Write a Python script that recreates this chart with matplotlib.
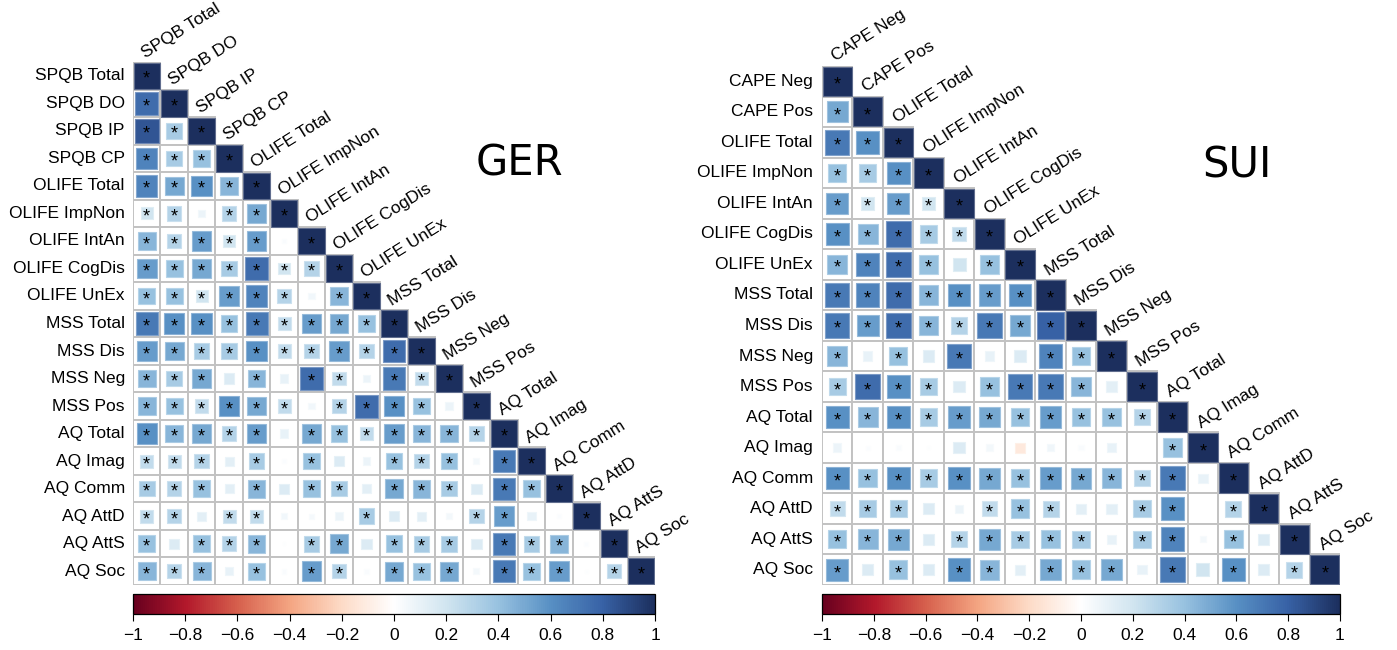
import numpy as np
from matplotlib import pyplot as plt
from matplotlib.colors import LinearSegmentedColormap, Normalize
from matplotlib.cm import ScalarMappable
from matplotlib.patches import Rectangle

#  Variable names
ger_names = ["SPQB Total", "SPQB DO", "SPQB IP", "SPQB CP", "OLIFE Total", "OLIFE ImpNon",
             "OLIFE IntAn", "OLIFE CogDis", "OLIFE UnEx", "MSS Total", "MSS Dis", "MSS Neg",
             "MSS Pos", "AQ Total", "AQ Imag", "AQ Comm", "AQ AttD", "AQ AttS", "AQ Soc"]
sui_names = ["CAPE Neg", "CAPE Pos", "OLIFE Total", "OLIFE ImpNon", "OLIFE IntAn", "OLIFE CogDis",
             "OLIFE UnEx", "MSS Total", "MSS Dis", "MSS Neg", "MSS Pos", "AQ Total", "AQ Imag",
             "AQ Comm", "AQ AttD", "AQ AttS", "AQ Soc"]

#  Lower triangle correlations (row i, columns 0..i-1)
ger_r = [
    [0.75],
    [0.85, 0.35],
    [0.65, 0.35, 0.40],
    [0.65, 0.50, 0.60, 0.45],
    [0.20, 0.30, 0.08, 0.30, 0.50],
    [0.45, 0.30, 0.55, 0.20, 0.55, 0.03],
    [0.55, 0.40, 0.50, 0.35, 0.75, 0.20, 0.30],
    [0.40, 0.40, 0.20, 0.55, 0.65, 0.30, 0.06, 0.45],
    [0.70, 0.60, 0.60, 0.40, 0.70, 0.25, 0.55, 0.50, 0.40],
    [0.55, 0.50, 0.35, 0.35, 0.60, 0.25, 0.30, 0.55, 0.30, 0.75],
    [0.45, 0.35, 0.50, 0.15, 0.45, 0.10, 0.75, 0.25, 0.08, 0.70, 0.25],
    [0.45, 0.40, 0.25, 0.60, 0.50, 0.25, 0.06, 0.30, 0.75, 0.60, 0.40, 0.08],
    [0.60, 0.45, 0.50, 0.30, 0.55, 0.10, 0.50, 0.40, 0.25, 0.55, 0.45, 0.45, 0.30],
    [0.25, 0.25, 0.30, 0.12, 0.35, 0.02, 0.40, 0.15, 0.08, 0.40, 0.30, 0.40, 0.05, 0.70],
    [0.35, 0.30, 0.40, 0.12, 0.45, 0.15, 0.40, 0.35, 0.12, 0.50, 0.45, 0.35, 0.15, 0.70, 0.40],
    [0.25, 0.30, 0.12, 0.25, 0.25, 0.06, 0.04, 0.08, 0.35, 0.15, 0.12, 0.05, 0.30, 0.55, 0.10, 0.02],
    [0.40, 0.15, 0.40, 0.30, 0.45, 0.01, 0.35, 0.50, 0.15, 0.40, 0.35, 0.35, 0.15, 0.70, 0.35, 0.45, 0.02],
    [0.45, 0.30, 0.45, 0.10, 0.40, 0.03, 0.55, 0.30, 0.03, 0.50, 0.40, 0.50, 0.05, 0.70, 0.40, 0.55, 0.01, 0.30],
]
ger_sig = ["1", "11", "111", "1111", "11011", "111110", "1111111", "11111101", "111111111",
           "1111111111", "11101011011", "111111011110", "1111101111111", "11101010011101",
           "111010110111011", "1101100010001100", "10111011011101110", "111010110111011101"]

sui_r = [
    [0.50],
    [0.70, 0.60],
    [0.40, 0.35, 0.60],
    [0.55, 0.20, 0.55, 0.20],
    [0.60, 0.45, 0.75, 0.35, 0.25],
    [0.45, 0.65, 0.75, 0.40, 0.20, 0.40],
    [0.70, 0.65, 0.75, 0.45, 0.60, 0.55, 0.60],
    [0.70, 0.55, 0.75, 0.45, 0.30, 0.70, 0.50, 0.80],
    [0.45, 0.10, 0.40, 0.15, 0.70, 0.10, 0.15, 0.65, 0.40],
    [0.35, 0.75, 0.60, 0.35, 0.15, 0.40, 0.70, 0.70, 0.45, 0.12],
    [0.60, 0.45, 0.60, 0.35, 0.55, 0.50, 0.40, 0.55, 0.40, 0.40, 0.30],
    [0.08, 0.02, 0.03, 0.01, 0.15, 0.05, -0.12, 0.07, 0.03, 0.10, 0.00, 0.40],
    [0.60, 0.40, 0.60, 0.35, 0.60, 0.50, 0.40, 0.55, 0.50, 0.45, 0.30, 0.70, 0.10],
    [0.25, 0.35, 0.35, 0.15, 0.08, 0.25, 0.40, 0.30, 0.12, 0.12, 0.35, 0.60, 0.00, 0.30],
    [0.40, 0.45, 0.50, 0.15, 0.30, 0.50, 0.35, 0.40, 0.35, 0.10, 0.35, 0.65, 0.05, 0.40, 0.15],
    [0.55, 0.15, 0.40, 0.15, 0.60, 0.45, 0.12, 0.50, 0.40, 0.50, 0.10, 0.70, 0.20, 0.60, 0.15, 0.30],
]
sui_sig = ["1", "11", "111", "1111", "11111", "111101", "1111111", "11111111", "101010011",
           "1111011110", "11111111111", "000000000001", "1111111111110", "11100111001101",
           "111011111011010", "1010110111010101"]

cbar_ticks = [-1, -0.8, -0.6, -0.4, -0.2, 0, 0.2, 0.4, 0.6, 0.8, 1]

#  corrplot style RdBu palette (blue end a bit muted, as in the figure)
cmap = LinearSegmentedColormap.from_list("rdbu", ["#67001F", "#B2182B", "#D6604D", "#F4A582", "#FDDBC7",
                                                  "#FFFFFF", "#D1E5F0", "#98C2E0", "#5890C4", "#3862A6",
                                                  "#1c2f5e"])
norm = Normalize(-1, 1)

plt.rcParams['font.family'] = ['Liberation Sans', 'DejaVu Sans']
W, H = 1397, 650
fig = plt.figure(figsize=(W / 100, H / 100), dpi=100)


def draw_panel(names, vals, sig, px, tag, tag_xy):
    n = len(names)
    x0, y0, x1, y1 = px
    ax = fig.add_axes([x0 / W, 1 - y1 / H, (x1 - x0) / W, (y1 - y0) / H])
    for i in range(n):
        for j in range(i + 1):
            r = 1.0 if i == j else vals[i - 1][j]
            ax.add_patch(Rectangle((j, i), 1, 1, fc='white', ec='#c2c2c2', lw=1.4, zorder=1))
            s = np.sqrt(abs(r)) * 0.96
            c = cmap(norm(r))
            edge = tuple(0.7 * np.array(c[:3]) + 0.3)
            ax.add_patch(Rectangle((j + 0.5 - s / 2, i + 0.5 - s / 2), s, s, fc=c,
                                   ec=edge, lw=0.8, zorder=2))
            if i == j or sig[i - 1][j] == "1":
                ax.text(j + 0.5, i + 0.63, "*", ha='center', va='center', fontsize=13, zorder=3)
        ax.text(-0.3, i + 0.5, names[i], ha='right', va='center', fontsize=12.5)
        ax.text(i + 0.5, i - 0.05, names[i], ha='left', va='bottom', rotation=32,
                rotation_mode='anchor', fontsize=12.5)
    ax.set_xlim(0, n)
    ax.set_ylim(n, 0)
    ax.axis('off')
    fig.text(tag_xy[0] / W, 1 - tag_xy[1] / H, tag, family='DejaVu Sans', fontsize=30,
             ha='center', va='center')

    #  Colour bar under the matrix
    cax = fig.add_axes([x0 / W, 1 - 614 / H, (x1 - x0) / W, 20 / H])
    cb = fig.colorbar(ScalarMappable(norm=norm, cmap=cmap), cax=cax, orientation='horizontal',
                      ticks=cbar_ticks)
    cb.ax.set_xticklabels([("%g" % t).replace("-", "\u2212") for t in cbar_ticks], fontsize=12.5)
    cb.ax.tick_params(length=5, width=0.8, pad=5)
    cb.outline.set_linewidth(0.9)


draw_panel(ger_names, ger_r, ger_sig, (133, 62, 655, 585), "GER", (519, 164))
draw_panel(sui_names, sui_r, sui_sig, (822, 66, 1340, 585), "SUI", (1237, 165))

plt.savefig("out.png", dpi=100)
